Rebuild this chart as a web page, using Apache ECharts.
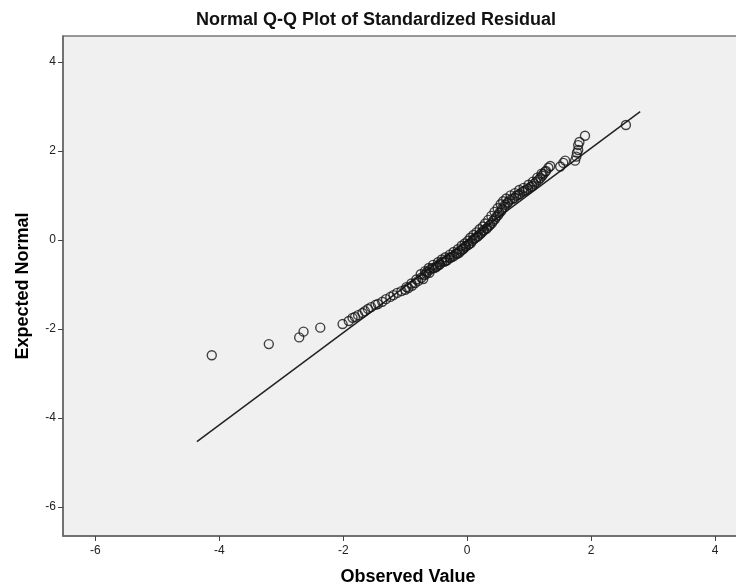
<!DOCTYPE html>
<html>
<head>
<meta charset="utf-8">
<script src="https://cdn.jsdelivr.net/npm/echarts@6/dist/echarts.min.js"></script>
<style>html,body{margin:0;padding:0;background:#fff;}#c{width:736px;height:586px;}</style>
</head>
<body>
<div id="c"></div>
<script>
const observed = [
  -4.12,-3.20,-2.71,-2.64,-2.37,-2.01,-1.91,
  -1.85,-1.81,-1.76,-1.69,-1.65,-1.60,-1.55,-1.48,-1.44,-1.37,-1.31,-1.24,-1.19,-1.13,-1.06,-1.00,-0.95,-0.89,-0.84,-0.79,
  -0.74,-0.69,-0.65,-0.60,-0.53,-0.48,-0.44,-0.37,-0.32,-0.27,-0.21,-0.16,-0.11,-0.06,-0.02,0.03,0.08,0.13,0.18,0.23,0.27,0.32,0.37,0.42,0.47,0.52,0.56,0.61,0.66,0.73,0.79,0.85,0.92,0.98,1.05,1.11,1.18,1.23,1.27,1.31,1.34,
  -0.71,-0.66,-0.61,-0.56,-0.50,-0.45,-0.40,-0.34,-0.29,-0.24,-0.18,-0.13,-0.08,-0.03,0.02,0.06,0.11,0.16,0.21,0.26,0.31,0.35,0.40,0.45,0.50,0.55,0.60,0.65,0.69,0.76,0.82,0.89,0.95,1.02,1.08,1.15,1.21,1.26,
  -0.98,-0.90,-0.82,-0.75,-0.68,-0.62,-0.55,-0.47,-0.41,-0.35,-0.28,-0.22,-0.15,-0.09,-0.04,0.01,0.05,0.10,0.15,0.20,0.25,0.29,0.34,0.39,0.44,0.49,0.54,0.58,0.63,0.70,0.77,0.84,0.91,0.99,1.06,1.13,1.20,
  1.50,1.55,1.58,1.74,1.76,1.77,1.79,1.79,1.81,1.90,2.56
];
const expected = [
  -2.59,-2.34,-2.19,-2.06,-1.97,-1.89,-1.82,
  -1.75,-1.73,-1.69,-1.64,-1.60,-1.55,-1.51,-1.46,-1.44,-1.39,-1.33,-1.28,-1.24,-1.19,-1.15,-1.12,-1.08,-1.03,-0.97,-0.92,
  -0.85,-0.79,-0.72,-0.67,-0.63,-0.58,-0.54,-0.49,-0.45,-0.40,-0.36,-0.31,-0.25,-0.20,-0.13,-0.09,-0.02,0.04,0.09,0.16,0.22,0.27,0.34,0.43,0.52,0.61,0.70,0.79,0.85,0.92,0.99,1.03,1.10,1.15,1.21,1.30,1.39,1.48,1.55,1.62,1.66,
  -0.88,-0.76,-0.74,-0.63,-0.61,-0.56,-0.49,-0.47,-0.40,-0.38,-0.31,-0.29,-0.22,-0.16,-0.11,-0.07,0.02,0.07,0.13,0.20,0.25,0.31,0.38,0.47,0.56,0.65,0.74,0.83,0.90,0.94,1.01,1.08,1.12,1.19,1.26,1.35,1.44,1.53,
  -1.06,-0.98,-0.89,-0.77,-0.70,-0.63,-0.56,-0.50,-0.44,-0.39,-0.33,-0.27,-0.21,-0.13,-0.08,-0.02,0.05,0.11,0.17,0.24,0.30,0.37,0.45,0.54,0.63,0.71,0.80,0.87,0.93,1.00,1.05,1.12,1.17,1.24,1.31,1.40,1.49,
  1.65,1.73,1.78,1.78,1.87,1.96,2.02,2.13,2.20,2.34,2.58
];
// Reference line endpoints
const lineX = [-4.36, 2.79];
const lineY = [-4.53, 2.88];
const tickValues = [-6, -4, -2, 0, 2, 4];

const points = observed.map((v, i) => [v, expected[i]]);
const linePts = lineX.map((v, i) => [v, lineY[i]]);

const chart = echarts.init(document.getElementById('c'), null, {renderer: 'canvas'});
const font = 'Liberation Sans, Arial, sans-serif';
chart.setOption({
  animation: false,
  backgroundColor: '#ffffff',
  title: {
    text: 'Normal Q-Q Plot of Standardized Residual',
    left: 376,
    textAlign: 'center',
    top: 11,
    padding: 0,
    textStyle: {fontFamily: font, fontSize: 18, fontWeight: 'bold', color: '#111'}
  },
  grid: {
    left: 63, top: 36, width: 690, height: 500,
    outerBoundsMode: 'none', containLabel: false,
    show: true, backgroundColor: '#f0f0f0', borderColor: '#777', borderWidth: 1.5
  },
  xAxis: {
    type: 'value', min: -6.52, max: 4.61,
    name: 'Observed Value', nameLocation: 'middle', nameGap: 32,
    nameTextStyle: {fontFamily: font, fontSize: 18, fontWeight: 'bold', color: '#000'},
    axisLine: {show: true, onZero: false, lineStyle: {color: '#666', width: 1.5}},
    axisTick: {show: true, length: 5, customValues: tickValues, lineStyle: {color: '#444', width: 1}},
    axisLabel: {customValues: tickValues, fontFamily: font, fontSize: 12, color: '#222', margin: 9},
    splitLine: {show: false}
  },
  yAxis: {
    type: 'value', min: -6.65, max: 4.58,
    name: 'Expected Normal', nameLocation: 'middle', nameGap: 31,
    nameTextStyle: {fontFamily: font, fontSize: 18, fontWeight: 'bold', color: '#000'},
    axisLine: {show: true, onZero: false, lineStyle: {color: '#666', width: 1.5}},
    axisTick: {show: true, length: 5, customValues: tickValues, lineStyle: {color: '#444', width: 1}},
    axisLabel: {customValues: tickValues, fontFamily: font, fontSize: 12, color: '#222', margin: 7},
    splitLine: {show: false}
  },
  series: [
    {
      type: 'line', data: linePts, showSymbol: false, symbol: 'none',
      lineStyle: {color: '#222', width: 1.5}, z: 2
    },
    {
      type: 'scatter', data: points, symbol: 'circle', symbolSize: 9,
      itemStyle: {color: 'rgba(0,0,0,0)', borderColor: '#151515', borderWidth: 1.4},
      z: 3
    }
  ]
});
</script>
</body>
</html>
